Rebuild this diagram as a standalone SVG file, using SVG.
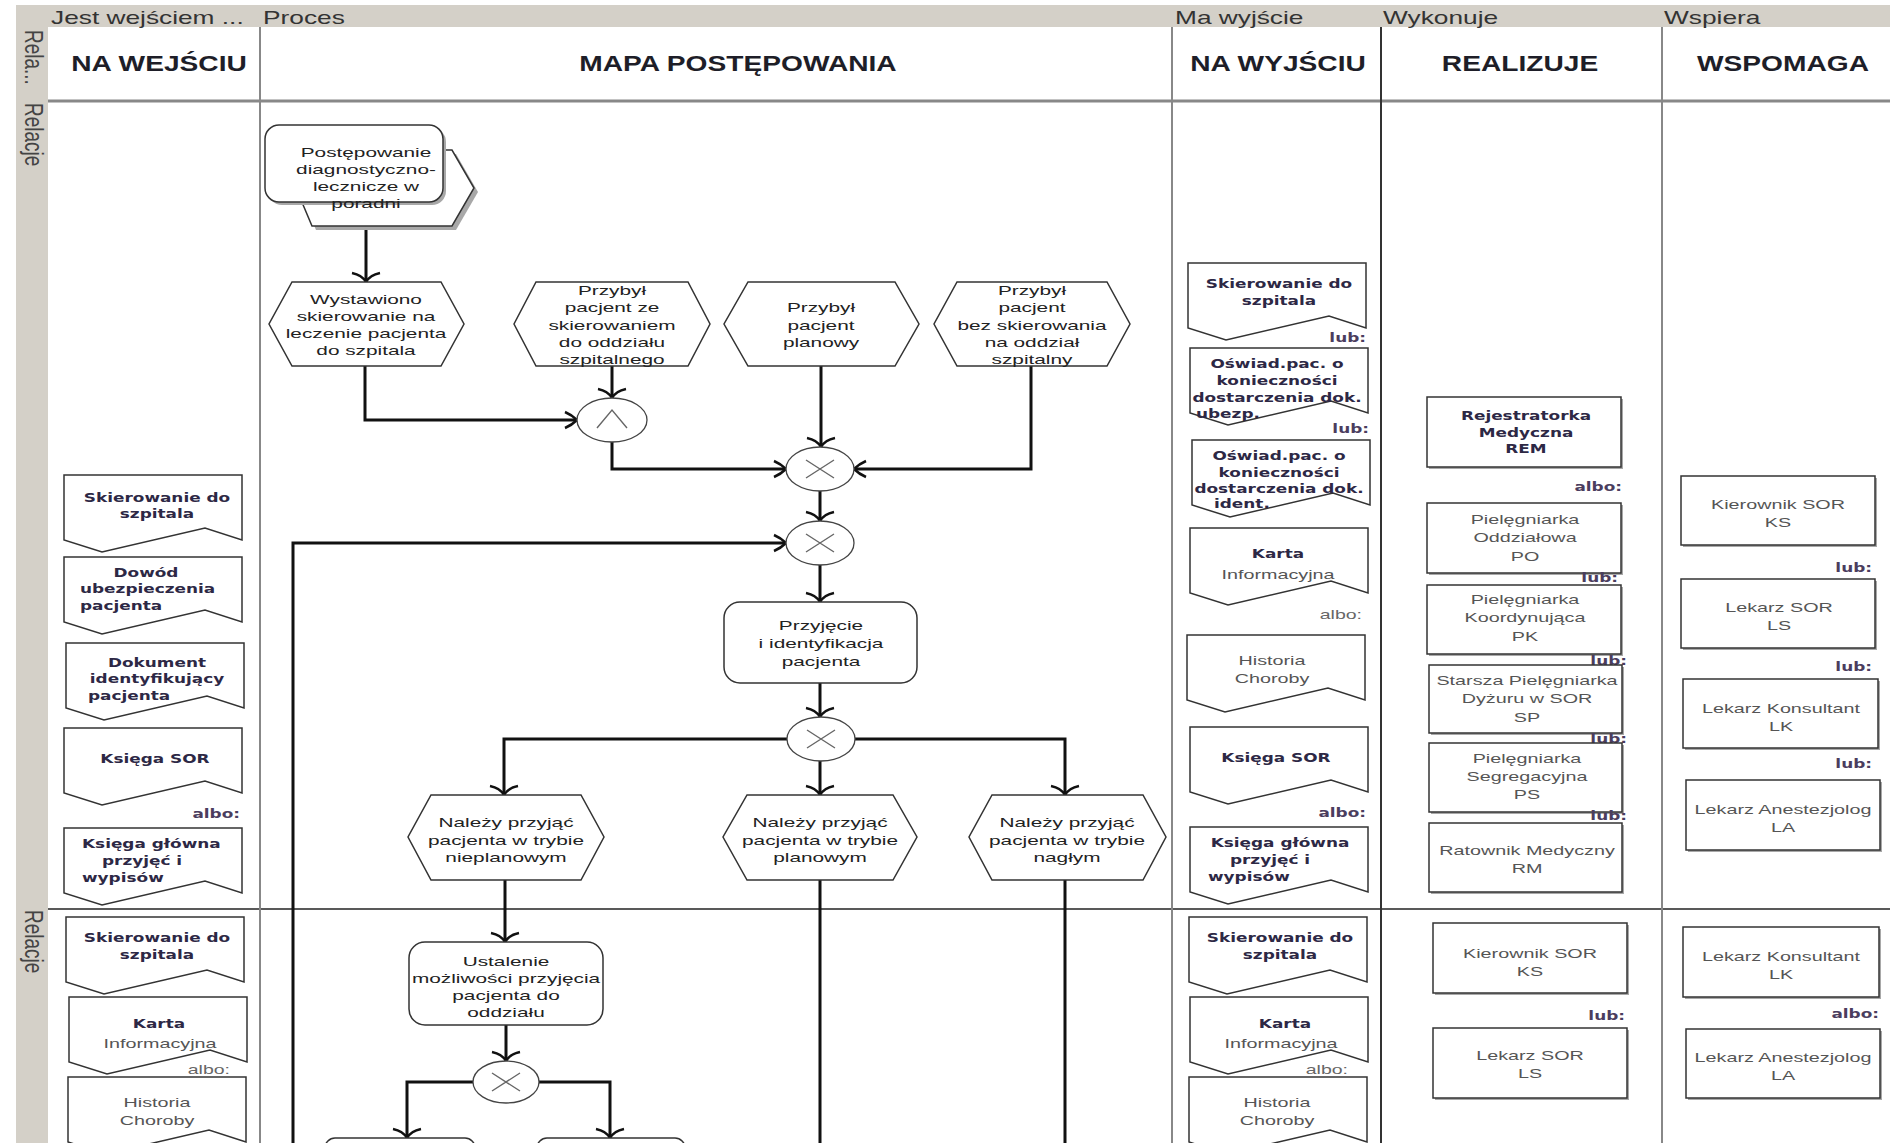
<svg xmlns="http://www.w3.org/2000/svg" width="1890" height="1143" viewBox="0 0 1890 1143">
<style>
.hl{font-family:"Liberation Sans",Arial,sans-serif;font-size:18px;fill:#333}
.vt{font-family:"Liberation Sans",Arial,sans-serif;font-size:19px;fill:#444}
.tt{font-family:"Liberation Sans",Arial,sans-serif;font-size:22px;font-weight:bold;fill:#1e1e28;text-anchor:middle}
.pt{font-family:"Liberation Sans",Arial,sans-serif;font-size:13px;fill:#222;text-anchor:middle}
.db{font-family:"DejaVu Sans",Verdana,sans-serif;font-size:13px;font-weight:bold;fill:#2d2845;text-anchor:middle}
.lt{font-family:"Liberation Sans",Arial,sans-serif;font-size:13px;fill:#555;text-anchor:middle}
.op{font-family:"DejaVu Sans",Verdana,sans-serif;font-size:13px;font-weight:bold;fill:#4b3d5e;text-anchor:end}
.ol{font-family:"Liberation Sans",Arial,sans-serif;font-size:13px;fill:#666;text-anchor:end}
.s{text-anchor:start}
.node{fill:#fff;stroke:#333;stroke-width:1.5}
.shd{fill:#a8a8a8;stroke:none}
.box{fill:#fff;stroke:#333;stroke-width:1.5}
.gw{fill:#fff;stroke:#444;stroke-width:1.3}
.gx{fill:none;stroke:#666;stroke-width:1.4}
.cn{fill:none;stroke:#111;stroke-width:3}
.col{stroke:#888;stroke-width:2}
</style>
<defs>
<path id="doc" d="M0,0 H178 V65 L141,53 L38,77 L0,65 Z"/>
<marker id="ad" markerUnits="userSpaceOnUse" markerWidth="32" markerHeight="14" refX="15" refY="10" orient="0" overflow="visible"><path d="M1,1 Q11,3 15,10 Q19,3 29,1" fill="none" stroke="#111" stroke-width="2.5"/></marker>
<marker id="ar" markerUnits="userSpaceOnUse" markerWidth="14" markerHeight="20" refX="12" refY="9" orient="0" overflow="visible"><path d="M0,1 Q7,4 12,9 Q7,14 0,17" fill="none" stroke="#111" stroke-width="2.5"/></marker>
<marker id="al" markerUnits="userSpaceOnUse" markerWidth="14" markerHeight="20" refX="0" refY="9" orient="0" overflow="visible"><path d="M12,1 Q5,4 0,9 Q5,14 12,17" fill="none" stroke="#111" stroke-width="2.5"/></marker>
</defs>
<rect width="1890" height="1143" fill="#fff"/>
<g id="lanes">
<rect x="16" y="5" width="1874" height="22" fill="#d4d0c8"/>
<rect x="16" y="5" width="32" height="1138" fill="#d4d0c8"/>
<text class="hl" transform="matrix(1.46 0 0 1 51 0)" x="0" y="24">Jest wejściem ...</text>
<text class="hl" transform="matrix(1.46 0 0 1 263 0)" x="0" y="24">Proces</text>
<text class="hl" transform="matrix(1.46 0 0 1 1175 0)" x="0" y="24">Ma wyjście</text>
<text class="hl" transform="matrix(1.46 0 0 1 1383 0)" x="0" y="24">Wykonuje</text>
<text class="hl" transform="matrix(1.46 0 0 1 1664 0)" x="0" y="24">Wspiera</text>
<text class="vt" transform="translate(25,30) scale(1.4,1) rotate(90)" x="0" y="0">Rela...</text>
<text class="vt" transform="translate(25,103) scale(1.4,1) rotate(90)" x="0" y="0">Relacje</text>
<text class="vt" transform="translate(25,910) scale(1.4,1) rotate(90)" x="0" y="0">Relacje</text>
<line x1="48" y1="101" x2="1890" y2="101" stroke="#888" stroke-width="3"/>
<line x1="48" y1="909" x2="1890" y2="909" stroke="#222" stroke-width="1.5"/>
<line class="col" x1="260" y1="27" x2="260" y2="1143"/>
<line class="col" x1="1172" y1="27" x2="1172" y2="1143"/>
<line x1="1381" y1="27" x2="1381" y2="1143" stroke="#333" stroke-width="2"/>
<line class="col" x1="1662" y1="27" x2="1662" y2="1143"/>
<text class="tt" transform="matrix(1.28 0 0 1 159 0)" x="0" y="71">NA WEJŚCIU</text>
<text class="tt" transform="matrix(1.28 0 0 1 738 0)" x="0" y="71">MAPA POSTĘPOWANIA</text>
<text class="tt" transform="matrix(1.28 0 0 1 1278 0)" x="0" y="71">NA WYJŚCIU</text>
<text class="tt" transform="matrix(1.28 0 0 1 1520 0)" x="0" y="71">REALIZUJE</text>
<text class="tt" transform="matrix(1.28 0 0 1 1783 0)" x="0" y="71">WSPOMAGA</text>
</g>
<g id="connectors">
<path class="cn" d="M366,228 V282" marker-end="url(#ad)"/>
<path class="cn" d="M365,366 V420 H577" marker-end="url(#ar)"/>
<path class="cn" d="M612,366 V398" marker-end="url(#ad)"/>
<path class="cn" d="M612,442 V469 H786" marker-end="url(#ar)"/>
<path class="cn" d="M821,366 V447" marker-end="url(#ad)"/>
<path class="cn" d="M1031,366 V469 H854" marker-end="url(#al)"/>
<path class="cn" d="M820,491 V521" marker-end="url(#ad)"/>
<path class="cn" d="M293,1143 V543 H786" marker-end="url(#ar)"/>
<path class="cn" d="M820,565 V602" marker-end="url(#ad)"/>
<path class="cn" d="M820,683 V717" marker-end="url(#ad)"/>
<path class="cn" d="M787,739 H504 V795" marker-end="url(#ad)"/>
<path class="cn" d="M820,761 V795" marker-end="url(#ad)"/>
<path class="cn" d="M855,739 H1065 V795" marker-end="url(#ad)"/>
<path class="cn" d="M505,880 V942" marker-end="url(#ad)"/>
<path class="cn" d="M820,880 V1143"/>
<path class="cn" d="M1065,880 V1143"/>
<path class="cn" d="M506,1025 V1061" marker-end="url(#ad)"/>
<path class="cn" d="M473,1082 H407 V1138" marker-end="url(#ad)"/>
<path class="cn" d="M539,1082 H610 V1138" marker-end="url(#ad)"/>
</g>
<g id="n-postepowanie">
<polygon class="shd" points="322,154 456,154 478,192 456,230 316,230 300,192"/>
<polygon class="node" points="318,150 452,150 474,188 452,226 312,226 296,188"/>
<rect class="shd" x="268" y="128" width="178" height="77" rx="14"/>
<rect class="node" x="265" y="125" width="178" height="77" rx="14"/>
<text class="pt" transform="matrix(1.6 0 0 1 366 0)"><tspan x="0" y="157">Postępowanie</tspan><tspan x="0" y="174">diagnostyczno-</tspan><tspan x="0" y="191">lecznicze w</tspan><tspan x="0" y="208">poradni</tspan></text>
</g>
<g id="n-wystawiono">
<polygon class="node" points="292,282 441,282 464,324 441,366 292,366 269,324"/>
<text class="pt" transform="matrix(1.6 0 0 1 366 0)"><tspan x="0" y="304">Wystawiono</tspan><tspan x="0" y="321">skierowanie na</tspan><tspan x="0" y="338">leczenie pacjenta</tspan><tspan x="0" y="355">do szpitala</tspan></text>
</g>
<g id="n-przybyl-ze">
<polygon class="node" points="536,282 688,282 710,324 688,366 536,366 514,324"/>
<text class="pt" transform="matrix(1.6 0 0 1 612 0)"><tspan x="0" y="295">Przybył</tspan><tspan x="0" y="312">pacjent ze</tspan><tspan x="0" y="330">skierowaniem</tspan><tspan x="0" y="347">do oddziału</tspan><tspan x="0" y="364">szpitalnego</tspan></text>
</g>
<g id="n-przybyl-planowy">
<polygon class="node" points="748,282 895,282 919,324 895,366 748,366 724,324"/>
<text class="pt" transform="matrix(1.6 0 0 1 821 0)"><tspan x="0" y="312">Przybył</tspan><tspan x="0" y="330">pacjent</tspan><tspan x="0" y="347">planowy</tspan></text>
</g>
<g id="n-przybyl-bez">
<polygon class="node" points="957,282 1107,282 1130,324 1107,366 957,366 934,324"/>
<text class="pt" transform="matrix(1.6 0 0 1 1032 0)"><tspan x="0" y="295">Przybył</tspan><tspan x="0" y="312">pacjent</tspan><tspan x="0" y="330">bez skierowania</tspan><tspan x="0" y="347">na oddział</tspan><tspan x="0" y="364">szpitalny</tspan></text>
</g>
<g id="g-and">
<ellipse class="gw" cx="612" cy="420" rx="35" ry="22"/>
<polyline class="gx" points="597,428 612,410 627,428"/>
</g>
<g id="g-xor1">
<ellipse class="gw" cx="820" cy="469" rx="34" ry="22"/>
<path class="gx" d="M806,460 L834,478 M834,460 L806,478"/>
</g>
<g id="g-xor2">
<ellipse class="gw" cx="820" cy="543" rx="34" ry="22"/>
<path class="gx" d="M806,534 L834,552 M834,534 L806,552"/>
</g>
<g id="n-przyjecie">
<rect class="node" x="724" y="602" width="193" height="81" rx="16"/>
<text class="pt" transform="matrix(1.6 0 0 1 821 0)"><tspan x="0" y="630">Przyjęcie</tspan><tspan x="0" y="648">i identyfikacja</tspan><tspan x="0" y="666">pacjenta</tspan></text>
</g>
<g id="g-xor3">
<ellipse class="gw" cx="821" cy="739" rx="34" ry="22"/>
<path class="gx" d="M807,730 L835,748 M835,730 L807,748"/>
</g>
<g id="n-nieplanowym">
<polygon class="node" points="431,795 581,795 604,837 581,880 431,880 408,837"/>
<text class="pt" transform="matrix(1.6 0 0 1 506 0)"><tspan x="0" y="827">Należy przyjąć</tspan><tspan x="0" y="845">pacjenta w trybie</tspan><tspan x="0" y="862">nieplanowym</tspan></text>
</g>
<g id="n-planowym">
<polygon class="node" points="747,795 893,795 917,837 893,880 747,880 723,837"/>
<text class="pt" transform="matrix(1.6 0 0 1 820 0)"><tspan x="0" y="827">Należy przyjąć</tspan><tspan x="0" y="845">pacjenta w trybie</tspan><tspan x="0" y="862">planowym</tspan></text>
</g>
<g id="n-naglym">
<polygon class="node" points="992,795 1143,795 1166,837 1143,880 992,880 969,837"/>
<text class="pt" transform="matrix(1.6 0 0 1 1067 0)"><tspan x="0" y="827">Należy przyjąć</tspan><tspan x="0" y="845">pacjenta w trybie</tspan><tspan x="0" y="862">nagłym</tspan></text>
</g>
<g id="n-ustalenie">
<rect class="node" x="409" y="942" width="194" height="83" rx="16"/>
<text class="pt" transform="matrix(1.6 0 0 1 506 0)"><tspan x="0" y="966">Ustalenie</tspan><tspan x="0" y="983">możliwości przyjęcia</tspan><tspan x="0" y="1000">pacjenta do</tspan><tspan x="0" y="1017">oddziału</tspan></text>
</g>
<g id="g-xor4">
<ellipse class="gw" cx="506" cy="1082" rx="33" ry="21"/>
<path class="gx" d="M492,1073 L520,1091 M520,1073 L492,1091"/>
</g>
<g id="n-bottom1"><rect class="node" x="325" y="1138" width="150" height="40" rx="10"/></g>
<g id="n-bottom2"><rect class="node" x="537" y="1138" width="148" height="40" rx="10"/></g>
<g id="in-skierowanie"><use href="#doc" class="node" x="64" y="475"/>
<text class="db" transform="matrix(1.3 0 0 1 157 0)"><tspan x="0" y="502">Skierowanie do</tspan><tspan x="0" y="518">szpitala</tspan></text></g>
<g id="in-dowod"><use href="#doc" class="node" x="64" y="557"/>
<text class="db" transform="matrix(1.3 0 0 1 146 0)" x="0" y="577">Dowód</text>
<text class="db s" transform="matrix(1.3 0 0 1 80 0)"><tspan x="0" y="593">ubezpieczenia</tspan><tspan x="0" y="610">pacjenta</tspan></text></g>
<g id="in-dokument"><use href="#doc" class="node" x="66" y="643"/>
<text class="db" transform="matrix(1.3 0 0 1 157 0)"><tspan x="0" y="667">Dokument</tspan><tspan x="0" y="683">identyfikujący</tspan></text>
<text class="db s" transform="matrix(1.3 0 0 1 88 0)" x="0" y="700">pacjenta</text></g>
<g id="in-ksiega-sor"><use href="#doc" class="node" x="64" y="728"/>
<text class="db" transform="matrix(1.3 0 0 1 155 0)" x="0" y="763">Księga SOR</text></g>
<text class="op" transform="matrix(1.3 0 0 1 240 0)" x="0" y="818">albo:</text>
<g id="in-ksiega-glowna"><use href="#doc" class="node" x="64" y="828"/>
<text class="db s" transform="matrix(1.3 0 0 1 82 0)" x="0" y="848">Księga główna</text>
<text class="db s" transform="matrix(1.3 0 0 1 102 0)" x="0" y="865">przyjęć i</text>
<text class="db s" transform="matrix(1.3 0 0 1 82 0)" x="0" y="882">wypisów</text></g>
<g id="in2-skierowanie"><use href="#doc" class="node" x="66" y="917"/>
<text class="db" transform="matrix(1.3 0 0 1 157 0)"><tspan x="0" y="942">Skierowanie do</tspan><tspan x="0" y="959">szpitala</tspan></text></g>
<g id="in2-karta"><use href="#doc" class="node" x="69" y="997"/>
<text class="db" transform="matrix(1.3 0 0 1 159 0)" x="0" y="1028">Karta</text>
<text class="lt" transform="matrix(1.52 0 0 1 160 0)" x="0" y="1048">Informacyjna</text></g>
<text class="ol" transform="matrix(1.5 0 0 1 230 0)" x="0" y="1074">albo:</text>
<g id="in2-historia"><use href="#doc" class="node" x="68" y="1077"/>
<text class="lt" transform="matrix(1.52 0 0 1 157 0)"><tspan x="0" y="1107">Historia</tspan><tspan x="0" y="1125">Choroby</tspan></text></g>
<g id="out-skierowanie"><use href="#doc" class="node" x="1188" y="263"/>
<text class="db" transform="matrix(1.3 0 0 1 1279 0)"><tspan x="0" y="288">Skierowanie do</tspan><tspan x="0" y="305">szpitala</tspan></text></g>
<text class="op" transform="matrix(1.3 0 0 1 1366 0)" x="0" y="342">lub:</text>
<g id="out-oswiad-ubezp"><use href="#doc" class="node" x="1190" y="348"/>
<text class="db" transform="matrix(1.3 0 0 1 1277 0)"><tspan x="0" y="368">Oświad.pac. o</tspan><tspan x="0" y="385">konieczności</tspan><tspan x="0" y="402">dostarczenia dok.</tspan></text>
<text class="db s" transform="matrix(1.3 0 0 1 1196 0)" x="0" y="418">ubezp.</text></g>
<text class="op" transform="matrix(1.3 0 0 1 1369 0)" x="0" y="433">lub:</text>
<g id="out-oswiad-ident"><use href="#doc" class="node" x="1192" y="440"/>
<text class="db" transform="matrix(1.3 0 0 1 1279 0)"><tspan x="0" y="460">Oświad.pac. o</tspan><tspan x="0" y="477">konieczności</tspan><tspan x="0" y="493">dostarczenia dok.</tspan></text>
<text class="db s" transform="matrix(1.3 0 0 1 1214 0)" x="0" y="508">ident.</text></g>
<g id="out-karta"><use href="#doc" class="node" x="1190" y="528"/>
<text class="db" transform="matrix(1.3 0 0 1 1278 0)" x="0" y="558">Karta</text>
<text class="lt" transform="matrix(1.52 0 0 1 1278 0)" x="0" y="579">Informacyjna</text></g>
<text class="ol" transform="matrix(1.5 0 0 1 1362 0)" x="0" y="619">albo:</text>
<g id="out-historia"><use href="#doc" class="node" x="1187" y="635"/>
<text class="lt" transform="matrix(1.52 0 0 1 1272 0)"><tspan x="0" y="665">Historia</tspan><tspan x="0" y="683">Choroby</tspan></text></g>
<g id="out-ksiega-sor"><use href="#doc" class="node" x="1190" y="727"/>
<text class="db" transform="matrix(1.3 0 0 1 1276 0)" x="0" y="762">Księga SOR</text></g>
<text class="op" transform="matrix(1.3 0 0 1 1366 0)" x="0" y="817">albo:</text>
<g id="out-ksiega-glowna"><use href="#doc" class="node" x="1190" y="827"/>
<text class="db" transform="matrix(1.3 0 0 1 1280 0)" x="0" y="847">Księga główna</text>
<text class="db" transform="matrix(1.3 0 0 1 1270 0)" x="0" y="864">przyjęć i</text>
<text class="db s" transform="matrix(1.3 0 0 1 1208 0)" x="0" y="881">wypisów</text></g>
<g id="out2-skierowanie"><use href="#doc" class="node" x="1189" y="917"/>
<text class="db" transform="matrix(1.3 0 0 1 1280 0)"><tspan x="0" y="942">Skierowanie do</tspan><tspan x="0" y="959">szpitala</tspan></text></g>
<g id="out2-karta"><use href="#doc" class="node" x="1190" y="997"/>
<text class="db" transform="matrix(1.3 0 0 1 1285 0)" x="0" y="1028">Karta</text>
<text class="lt" transform="matrix(1.52 0 0 1 1281 0)" x="0" y="1048">Informacyjna</text></g>
<text class="ol" transform="matrix(1.5 0 0 1 1348 0)" x="0" y="1074">albo:</text>
<g id="out2-historia"><use href="#doc" class="node" x="1189" y="1077"/>
<text class="lt" transform="matrix(1.52 0 0 1 1277 0)"><tspan x="0" y="1107">Historia</tspan><tspan x="0" y="1125">Choroby</tspan></text></g>
<g id="r-rem"><rect class="shd" x="1429" y="399" width="194" height="70"/><rect class="box" x="1427" y="397" width="194" height="70"/>
<text class="db" transform="matrix(1.3 0 0 1 1526 0)"><tspan x="0" y="420">Rejestratorka</tspan><tspan x="0" y="437">Medyczna</tspan><tspan x="0" y="453">REM</tspan></text></g>
<text class="op" transform="matrix(1.3 0 0 1 1622 0)" x="0" y="491">albo:</text>
<g id="r-po"><rect class="shd" x="1429" y="505" width="194" height="70"/><rect class="box" x="1427" y="503" width="194" height="70"/>
<text class="lt" transform="matrix(1.52 0 0 1 1525 0)"><tspan x="0" y="524">Pielęgniarka</tspan><tspan x="0" y="542">Oddziałowa</tspan><tspan x="0" y="561">PO</tspan></text></g>
<text class="op" transform="matrix(1.3 0 0 1 1618 0)" x="0" y="582">lub:</text>
<g id="r-pk"><rect class="shd" x="1429" y="587" width="194" height="69"/><rect class="box" x="1427" y="585" width="194" height="69"/>
<text class="lt" transform="matrix(1.52 0 0 1 1525 0)"><tspan x="0" y="604">Pielęgniarka</tspan><tspan x="0" y="622">Koordynująca</tspan><tspan x="0" y="641">PK</tspan></text></g>
<text class="op" transform="matrix(1.3 0 0 1 1627 0)" x="0" y="665">lub:</text>
<g id="r-sp"><rect class="shd" x="1431" y="667" width="193" height="68"/><rect class="box" x="1429" y="665" width="193" height="68"/>
<text class="lt" transform="matrix(1.52 0 0 1 1527 0)"><tspan x="0" y="685">Starsza Pielęgniarka</tspan><tspan x="0" y="703">Dyżuru w SOR</tspan><tspan x="0" y="722">SP</tspan></text></g>
<text class="op" transform="matrix(1.3 0 0 1 1627 0)" x="0" y="743">lub:</text>
<g id="r-ps"><rect class="shd" x="1431" y="745" width="193" height="69"/><rect class="box" x="1429" y="743" width="193" height="69"/>
<text class="lt" transform="matrix(1.52 0 0 1 1527 0)"><tspan x="0" y="763">Pielęgniarka</tspan><tspan x="0" y="781">Segregacyjna</tspan><tspan x="0" y="799">PS</tspan></text></g>
<text class="op" transform="matrix(1.3 0 0 1 1627 0)" x="0" y="820">lub:</text>
<g id="r-rm"><rect class="shd" x="1431" y="825" width="193" height="69"/><rect class="box" x="1429" y="823" width="193" height="69"/>
<text class="lt" transform="matrix(1.52 0 0 1 1527 0)"><tspan x="0" y="855">Ratownik Medyczny</tspan><tspan x="0" y="873">RM</tspan></text></g>
<g id="w-ks"><rect class="shd" x="1683" y="478" width="194" height="69"/><rect class="box" x="1681" y="476" width="194" height="69"/>
<text class="lt" transform="matrix(1.52 0 0 1 1778 0)"><tspan x="0" y="509">Kierownik SOR</tspan><tspan x="0" y="527">KS</tspan></text></g>
<text class="op" transform="matrix(1.3 0 0 1 1872 0)" x="0" y="572">lub:</text>
<g id="w-ls"><rect class="shd" x="1683" y="581" width="194" height="69"/><rect class="box" x="1681" y="579" width="194" height="69"/>
<text class="lt" transform="matrix(1.52 0 0 1 1779 0)"><tspan x="0" y="612">Lekarz SOR</tspan><tspan x="0" y="630">LS</tspan></text></g>
<text class="op" transform="matrix(1.3 0 0 1 1872 0)" x="0" y="671">lub:</text>
<g id="w-lk"><rect class="shd" x="1685" y="681" width="195" height="69"/><rect class="box" x="1683" y="679" width="195" height="69"/>
<text class="lt" transform="matrix(1.52 0 0 1 1781 0)"><tspan x="0" y="713">Lekarz Konsultant</tspan><tspan x="0" y="731">LK</tspan></text></g>
<text class="op" transform="matrix(1.3 0 0 1 1872 0)" x="0" y="768">lub:</text>
<g id="w-la"><rect class="shd" x="1688" y="782" width="194" height="70"/><rect class="box" x="1686" y="780" width="194" height="70"/>
<text class="lt" transform="matrix(1.52 0 0 1 1783 0)"><tspan x="0" y="814">Lekarz Anestezjolog</tspan><tspan x="0" y="832">LA</tspan></text></g>
<g id="r2-ks"><rect class="shd" x="1435" y="925" width="194" height="70"/><rect class="box" x="1433" y="923" width="194" height="70"/>
<text class="lt" transform="matrix(1.52 0 0 1 1530 0)"><tspan x="0" y="958">Kierownik SOR</tspan><tspan x="0" y="976">KS</tspan></text></g>
<text class="op" transform="matrix(1.3 0 0 1 1625 0)" x="0" y="1020">lub:</text>
<g id="r2-ls"><rect class="shd" x="1435" y="1030" width="194" height="70"/><rect class="box" x="1433" y="1028" width="194" height="70"/>
<text class="lt" transform="matrix(1.52 0 0 1 1530 0)"><tspan x="0" y="1060">Lekarz SOR</tspan><tspan x="0" y="1078">LS</tspan></text></g>
<g id="w2-lk"><rect class="shd" x="1685" y="929" width="196" height="70"/><rect class="box" x="1683" y="927" width="196" height="70"/>
<text class="lt" transform="matrix(1.52 0 0 1 1781 0)"><tspan x="0" y="961">Lekarz Konsultant</tspan><tspan x="0" y="979">LK</tspan></text></g>
<text class="op" transform="matrix(1.3 0 0 1 1879 0)" x="0" y="1018">albo:</text>
<g id="w2-la"><rect class="shd" x="1688" y="1031" width="194" height="69"/><rect class="box" x="1686" y="1029" width="194" height="69"/>
<text class="lt" transform="matrix(1.52 0 0 1 1783 0)"><tspan x="0" y="1062">Lekarz Anestezjolog</tspan><tspan x="0" y="1080">LA</tspan></text></g>
</svg>
